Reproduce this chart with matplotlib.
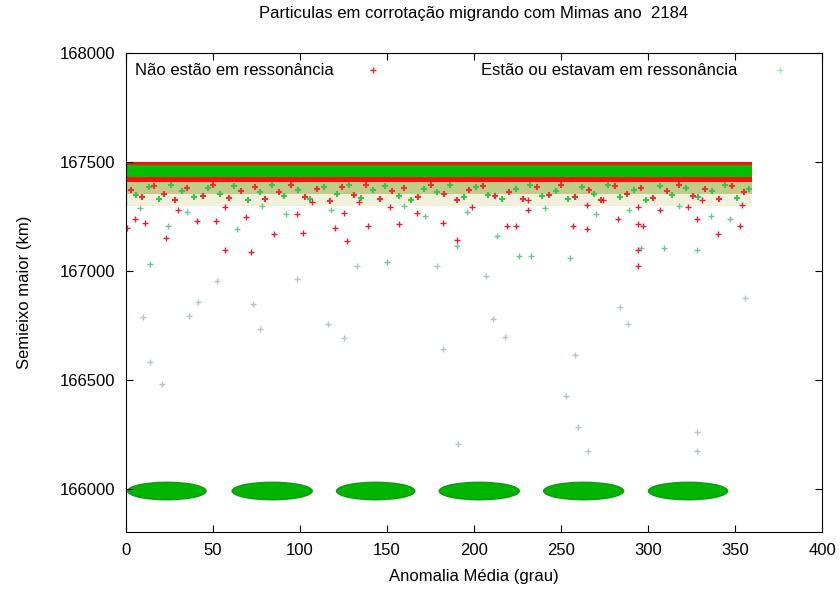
import matplotlib.pyplot as plt
from matplotlib.patches import Ellipse

plt.rcParams['font.family'] = ['Liberation Sans', 'DejaVu Sans']

# dense band of particles in corotation (anomaly span and semi-major axis limits, km)
band_x = [0, 360]
red_band = [167406, 167502]
green_band = [167429, 167484]
mixed_upper = [167355, 167406]
mixed_lower = [167300, 167355]

# speckle of both populations just under the band
mix_red_x = [3, 9, 16, 22, 28, 35, 44, 50, 59, 66, 74, 80, 88, 95, 103, 110, 117, 124,
             131, 138, 146, 153, 160, 168, 175, 183, 190, 197, 205, 212, 220, 228, 236,
             243, 250, 258, 266, 273, 281, 288, 296, 303, 311, 318, 326, 333, 341, 348, 355]
mix_red_y = [167370, 167340, 167390, 167355, 167325, 167380, 167345, 167395, 167335,
             167365, 167385, 167330, 167360, 167395, 167340, 167375, 167320, 167385,
             167350, 167395, 167330, 167365, 167380, 167340, 167395, 167355, 167325,
             167370, 167390, 167345, 167360, 167330, 167385, 167350, 167395, 167340,
             167370, 167325, 167390, 167355, 167380, 167335, 167365, 167395, 167345,
             167375, 167330, 167390, 167360]
mix_green_x = [6, 13, 19, 26, 32, 39, 47, 54, 62, 70, 77, 84, 91, 99, 106, 114, 121, 128,
               135, 142, 149, 157, 164, 171, 179, 186, 194, 201, 208, 216, 224, 232, 239,
               247, 254, 262, 269, 277, 284, 292, 299, 307, 314, 322, 329, 337, 344, 351, 358]
mix_green_y = [167350, 167385, 167330, 167395, 167365, 167340, 167380, 167355, 167390,
               167325, 167360, 167395, 167345, 167370, 167330, 167385, 167355, 167395,
               167335, 167370, 167390, 167345, 167325, 167375, 167360, 167395, 167340,
               167385, 167350, 167330, 167375, 167395, 167345, 167365, 167330, 167385,
               167355, 167395, 167340, 167370, 167325, 167390, 167350, 167380, 167340,
               167365, 167395, 167335, 167375]

# particles that are not in resonance, scattered below the band
red_x = [5, 11, 0.5, 23, 52, 41, 69, 57, 30, 85, 98, 57, 72, 125, 120, 139, 102, 127,
         152, 157, 167, 182, 190, 134, 107, 199, 219, 224, 231, 231, 257, 265, 265, 283,
         294, 294, 294, 274, 307, 297, 323, 328, 353, 354, 331, 340, 294]
red_y = [167236, 167222, 167199, 167149, 167227, 167227, 167249, 167291, 167281, 167167,
         167259, 167098, 167085, 167268, 167199, 167204, 167172, 167135, 167291, 167213,
         167268, 167222, 167144, 167318, 167318, 167295, 167204, 167204, 167281, 167327,
         167204, 167304, 167190, 167240, 167291, 167213, 167098, 167327, 167281, 167204,
         167291, 167236, 167204, 167304, 167327, 167167, 167021]

# particles that are or were in resonance, scattered below the band
green_x = [24, 64, 190, 213, 226, 233, 296, 309, 328, 8, 35, 78, 92, 118, 160, 172,
           196, 241, 270, 289, 318, 336, 347, 14, 150, 255]
green_y = [167204, 167190, 167112, 167158, 167066, 167066, 167107, 167107, 167098,
           167290, 167270, 167300, 167260, 167280, 167300, 167250, 167270, 167290,
           167260, 167280, 167300, 167250, 167240, 167030, 167040, 167060]

# faint remnants far below the band
faint_x = [9.8, 13.8, 20.7, 41.4, 36.2, 52.3, 73, 77, 98, 116, 125, 133, 179, 182,
           191, 207, 211, 218, 284, 288.5, 258, 253, 260, 265.5, 328, 328, 356]
faint_y = [166787, 166581, 166481, 166856, 166792, 166952, 166847, 166732, 166961,
           166755, 166691, 167021, 167021, 166641, 166206, 166975, 166778, 166696,
           166833, 166755, 166613, 166426, 166284, 166174, 166261, 166174, 166875]

# clumps of resonant particles near 166000 km
clump_center = [23.5, 84, 143.5, 203, 263, 323]
clump_width = [45, 46, 45, 46, 46, 45.5]
clump_a = 165989
clump_height = 80

fig = plt.figure(figsize=(8.4, 5.9), dpi=100)
ax = fig.add_axes([0.15, 0.098, 0.8286, 0.812])

ax.fill_between(band_x, mixed_lower[0], mixed_lower[1], color='#f0f0dc', lw=0)
ax.fill_between(band_x, mixed_upper[0], mixed_upper[1], color='#c0cc88', lw=0)
ax.plot(mix_green_x, mix_green_y, '+', color='#40c050', ms=5, mew=1.5)
ax.plot(mix_red_x, mix_red_y, '+', color='#f03030', ms=5, mew=1.5)
ax.fill_between(band_x, red_band[0], red_band[1], color='#ff1010', lw=0)
ax.fill_between(band_x, green_band[0], green_band[1], color='#00c000', lw=0)

ax.plot(faint_x, faint_y, '+', color='#b8c4be', ms=4, mew=1)
ax.plot(green_x, green_y, '+', color='#70c890', ms=4, mew=1)
ax.plot(red_x, red_y, '+', color='#e8203a', ms=4, mew=1)

for cx, w in zip(clump_center, clump_width):
    ax.add_patch(Ellipse((cx, clump_a), w, clump_height, facecolor='#00b400',
                         edgecolor='#0a9a0a', lw=1))

ax.set_xlim(0, 400)
ax.set_ylim(165800, 168000)
ax.set_xticks(range(0, 401, 50))
ax.set_yticks(range(166000, 168001, 500))
ax.tick_params(direction='in', top=True, right=True, labelsize=12, length=5)
ax.tick_params(axis='x', pad=8)
ax.tick_params(axis='y', pad=8)

ax.set_title('Particulas em corrotação migrando com Mimas ano  2184', fontsize=12, pad=25)
ax.set_xlabel('Anomalia Média (grau)', fontsize=12, labelpad=8)
ax.set_ylabel('Semieixo maior (km)', fontsize=12, labelpad=20)

ax.text(0.013, 0.964, 'Não estão em ressonância', transform=ax.transAxes,
        fontsize=12, va='center')
ax.plot([0.355], [0.964], '+', color='#ff2020', ms=4, transform=ax.transAxes)
ax.text(0.51, 0.964, 'Estão ou estavam em ressonância', transform=ax.transAxes,
        fontsize=12, va='center')
ax.plot([0.94], [0.964], '+', color='#b0e0c0', ms=4, transform=ax.transAxes)

fig.savefig('out.png', dpi=100)
